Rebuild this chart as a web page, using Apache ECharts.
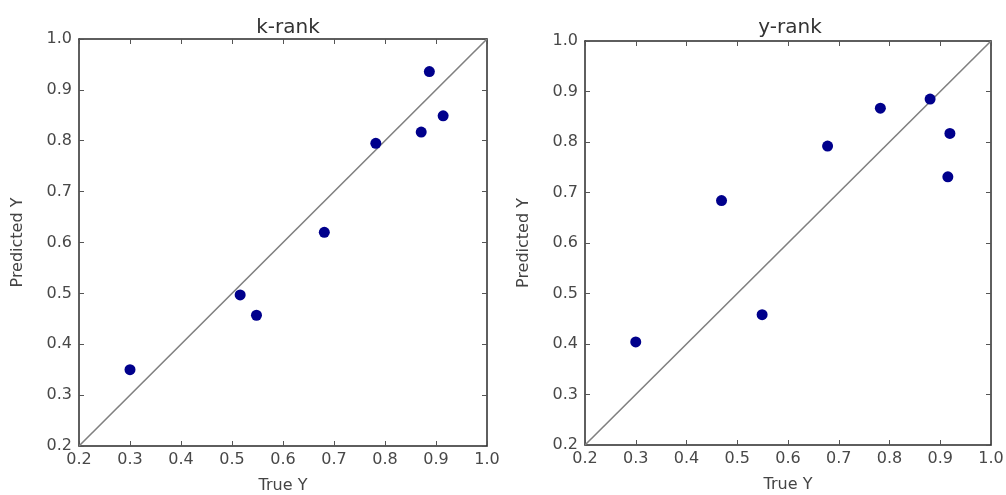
<!DOCTYPE html>
<html>
<head>
<meta charset="utf-8">
<script src="https://cdn.jsdelivr.net/npm/echarts@6/dist/echarts.min.js"></script>
<style>html,body{margin:0;padding:0;background:#fff;}#c{width:1006px;height:495px;}</style>
</head>
<body>
<div id="c"></div>
<script>
const titles = ['k-rank', 'y-rank'];
const kTrue = [0.300, 0.516, 0.548, 0.681, 0.782, 0.871, 0.887, 0.914];
const kPred = [0.350, 0.497, 0.457, 0.620, 0.795, 0.817, 0.936, 0.849];
const yTrue = [0.300, 0.469, 0.549, 0.678, 0.782, 0.880, 0.919, 0.915];
const yPred = [0.404, 0.684, 0.458, 0.792, 0.867, 0.885, 0.817, 0.731];
const diagonal = [[0.2, 0.2], [1.0, 1.0]];
const axisMin = 0.2, axisMax = 1.0, axisStep = 0.1;

const font = 'DejaVu Sans';
const frame = { show: true, lineStyle: { color: '#2a2a2a', width: 1.5 } };
const tick = { show: true, inside: true, length: 5, lineStyle: { color: '#555', width: 1 } };
const lbl = { color: '#484848', fontSize: 16, fontFamily: font, formatter: v => v.toFixed(1) };

const grids = [
  { left: 79, top: 39, width: 408, height: 407, containLabel: false, outerBoundsMode: 'none' },
  { left: 585, top: 41, width: 406, height: 404, containLabel: false, outerBoundsMode: 'none' }
];

const xAxes = [], yAxes = [], series = [];
grids.forEach((g, i) => {
  const common = { type: 'value', min: axisMin, max: axisMax, interval: axisStep, gridIndex: i, splitLine: { show: false }, axisLine: frame, axisTick: tick };
  xAxes.push(Object.assign({}, common, { position: 'bottom', name: 'True Y', nameLocation: 'middle', nameGap: 32,
    nameTextStyle: { color: '#444', fontSize: 16, fontFamily: font }, axisLabel: Object.assign({ margin: 6 }, lbl) }));
  xAxes.push(Object.assign({}, common, { position: 'top', axisLabel: { show: false } }));
  yAxes.push(Object.assign({}, common, { position: 'left', name: 'Predicted Y', nameLocation: 'middle', nameGap: 53,
    nameTextStyle: { color: '#444', fontSize: 16, fontFamily: font }, axisLabel: Object.assign({ margin: 7 }, lbl) }));
  yAxes.push(Object.assign({}, common, { position: 'right', axisLabel: { show: false } }));
});

const sets = [[kTrue, kPred], [yTrue, yPred]];
sets.forEach((s, i) => {
  series.push({ type: 'line', xAxisIndex: i * 2, yAxisIndex: i * 2, data: diagonal, symbol: 'none', silent: true,
    lineStyle: { color: '#808080', width: 1.6 }, z: 2 });
  series.push({ type: 'scatter', xAxisIndex: i * 2, yAxisIndex: i * 2, symbolSize: 11,
    data: s[0].map((x, j) => [x, s[1][j]]), itemStyle: { color: '#00008c', opacity: 1 }, z: 3 });
});

const chart = echarts.init(document.getElementById('c'), null, { renderer: 'canvas' });
chart.setOption({
  animation: false,
  backgroundColor: '#fff',
  title: [
    { text: titles[0], left: 283, top: 13, textAlign: 'center', textStyle: { color: '#333', fontSize: 20, fontWeight: 'normal', fontFamily: font } },
    { text: titles[1], left: 785, top: 13, textAlign: 'center', textStyle: { color: '#333', fontSize: 20, fontWeight: 'normal', fontFamily: font } }
  ],
  grid: grids,
  xAxis: xAxes,
  yAxis: yAxes,
  series: series
});
</script>
</body>
</html>
